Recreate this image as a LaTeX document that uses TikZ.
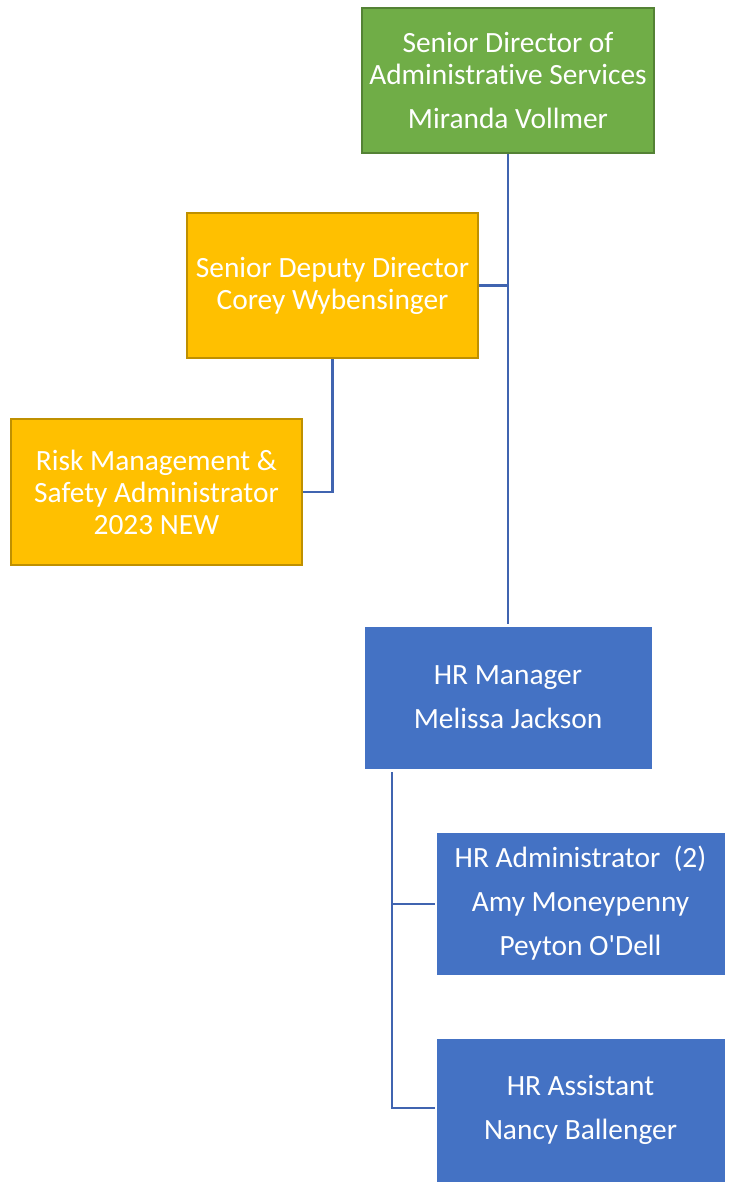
\documentclass[tikz,border=0pt]{standalone}
\usepackage{fontspec}
\setmainfont{Carlito}[Ligatures={TeXOff,CommonOff}]
\definecolor{gfill}{HTML}{70AD47}
\definecolor{gdraw}{HTML}{548235}
\definecolor{yfill}{HTML}{FFC000}
\definecolor{ydraw}{HTML}{BF9000}
\definecolor{bfill}{HTML}{4472C4}
\definecolor{lcol}{HTML}{4064B0}
\begin{document}
\begin{tikzpicture}[x=1pt,y=-1pt,
  box/.style={rectangle,align=center,text=white,inner sep=0pt,
    font=\fontsize{29.4}{32}\selectfont},
  gbox/.style={box,fill=gfill,draw=gdraw,line width=2pt},
  ybox/.style={box,fill=yfill,draw=ydraw,line width=2pt},
  bbox/.style={box,fill=bfill,draw=bfill,line width=0.5pt},
  conn/.style={draw=lcol,line width=2.2pt}]
\useasboundingbox (0,0) rectangle (729,1185);
\node[gbox,minimum width=292,minimum height=145] (dir) at (508,80.5)
  {Senior Director of\\Administrative Services\\[12pt]Miranda Vollmer};
\node[ybox,minimum width=291,minimum height=145] (dep) at (332.5,285.5)
  {Senior Deputy Director\\Corey Wybensinger};
\node[ybox,minimum width=291,minimum height=146] (risk) at (156.5,492)
  {Risk Management \&\\Safety Administrator\\2023 NEW};
\node[bbox,minimum width=286,minimum height=141] (hrm) at (508,697.5)
  {HR Manager\\[12pt]Melissa Jackson};
\node[bbox,minimum width=287,minimum height=141] (hra) at (580.5,903.5)
  {HR Administrator~~(2)\\[12pt]Amy Moneypenny\\[12pt]Peyton O'Dell};
\node[bbox,minimum width=287,minimum height=142] (hras) at (580.5,1110)
  {HR Assistant\\[12pt]Nancy Ballenger};
\coordinate (mainend) at (508,624);
\coordinate (hrtop) at (392,772);
\coordinate (hraend) at (435,904);
\coordinate (hrasend) at (435,1108);
\draw[conn] (dir.south) -- (mainend);
\draw[conn] (dep.east) -- (dep.east -| dir.south);
\draw[conn] (dep.south) |- (risk.east);
\draw[conn] (hrtop) |- (hraend);
\draw[conn] (hrtop) |- (hrasend);
\end{tikzpicture}
\end{document}
